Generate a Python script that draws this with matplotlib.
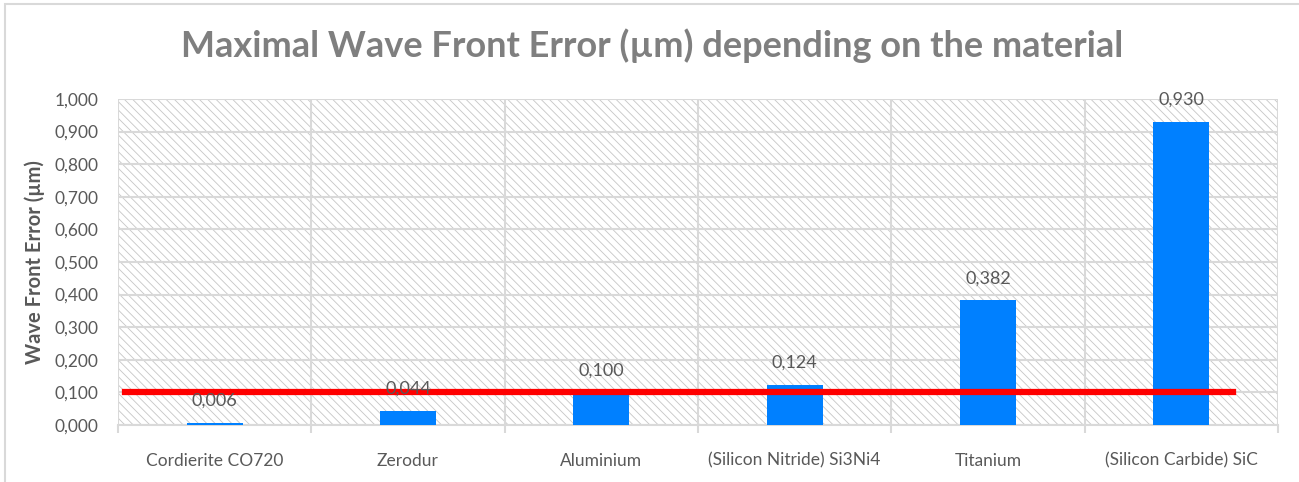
import matplotlib
matplotlib.use('Agg')
import matplotlib.pyplot as plt
from matplotlib.patches import Rectangle
from matplotlib.ticker import FuncFormatter

# Data
materials = ['Cordierite CO720', 'Zerodur', 'Aluminium',
             '(Silicon Nitride) Si3Ni4', 'Titanium', '(Silicon Carbide) SiC']
wfe = [0.006, 0.044, 0.100, 0.124, 0.382, 0.930]
threshold = 0.100

plt.rcParams['font.family'] = ['Lato', 'DejaVu Sans']

fig = plt.figure(figsize=(12.99, 4.82), dpi=100)
ax = fig.add_axes([0.0908, 0.1183, 0.893, 0.6763])

# outer chart frame
fig.patches.append(Rectangle((5 / 1299, -0.1), 1.2, 1.1 - 4 / 482, transform=fig.transFigure,
                             fill=False, edgecolor='#d9d9d9', linewidth=1.5))

# hatched plot area
plt.rcParams['hatch.color'] = '#c6c6c6'
plt.rcParams['hatch.linewidth'] = 0.6
ax.add_patch(Rectangle((0, 0), 1, 1, transform=ax.transAxes, facecolor='white',
                       hatch='\\\\\\\\', edgecolor='#c6c6c6', linewidth=0, zorder=0))

x = list(range(len(materials)))
ax.bar(x, wfe, width=0.29, color='#0080FF', zorder=3)
for xi, v in zip(x, wfe):
    ax.annotate(f'{v:.3f}'.replace('.', ','), (xi, v), xytext=(0, 16), textcoords='offset points',
                ha='center', va='center', fontsize=13, color='#595959', zorder=5)

ax.axhline(threshold, xmin=0.006, xmax=0.961, color='#FF0000', linewidth=4.5, zorder=4)

ax.set_xlim(-0.5, len(materials) - 0.5)
ax.set_ylim(0, 1.0)
ax.set_yticks([i / 10 for i in range(11)])
ax.yaxis.set_major_formatter(FuncFormatter(lambda v, p: f'{v:.3f}'.replace('.', ',')))
ax.set_xticks(x)
ax.set_xticklabels(materials)
ax.set_xticks([i - 0.5 for i in range(len(materials) + 1)], minor=True)

ax.tick_params(axis='y', length=0, pad=14, labelsize=12.5, labelcolor='#595959')
ax.tick_params(axis='x', which='major', length=0, pad=20, labelsize=12.5, labelcolor='#595959')
ax.tick_params(axis='x', which='minor', length=6, width=1.5, color='#d9d9d9')

ax.grid(axis='y', which='major', color='#d9d9d9', linewidth=1.5, zorder=1)
ax.grid(axis='x', which='minor', color='#d9d9d9', linewidth=1.5, zorder=1)
ax.set_axisbelow(True)

for s in ['top', 'right', 'left']:
    ax.spines[s].set_visible(False)
ax.spines['bottom'].set_color('#d9d9d9')
ax.spines['bottom'].set_linewidth(1.5)

ax.set_ylabel('Wave Front Error (µm)', fontsize=14.5, fontweight='bold', color='#595959')
ax.yaxis.set_label_coords(-0.063, 0.5)
fig.text(0.502, 0.905, 'Maximal Wave Front Error (µm) depending on the material',
         ha='center', va='center', fontsize=26, fontweight='bold', color='#7f7f7f')

plt.savefig('out.png', dpi=100)
plt.close()
